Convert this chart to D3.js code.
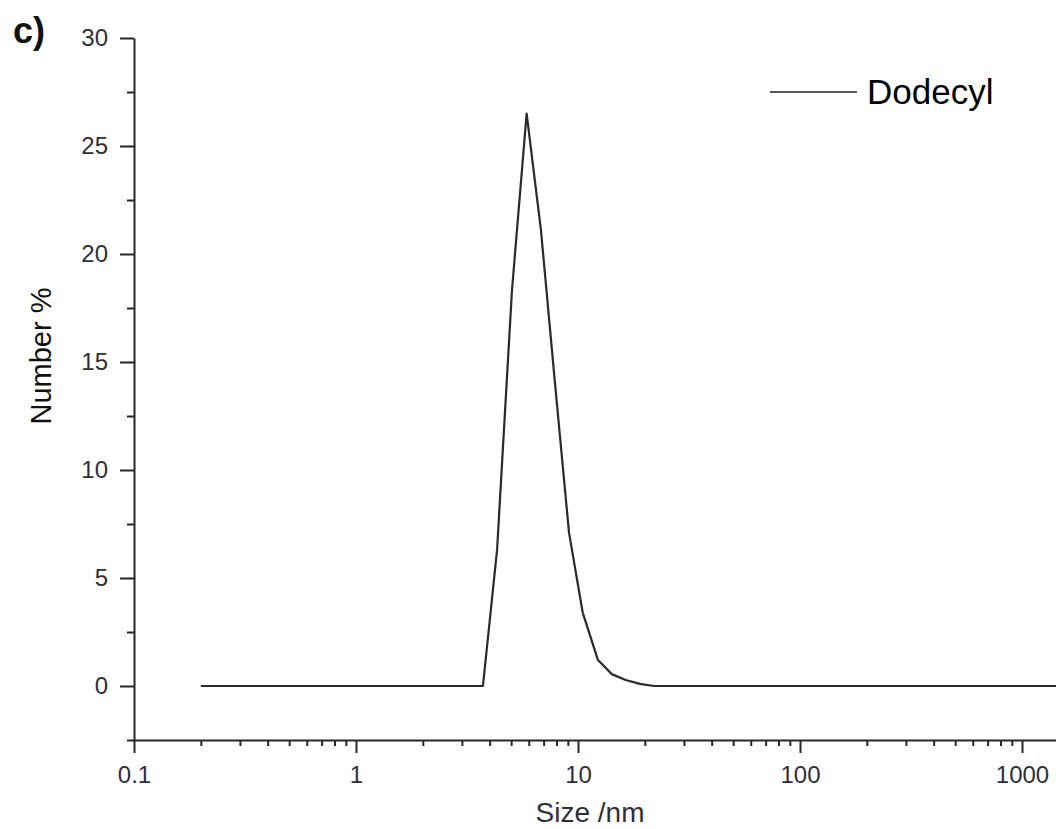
<!DOCTYPE html>
<html>
<head>
<meta charset="utf-8">
<script src="https://cdn.jsdelivr.net/npm/d3@7"></script>
<style>
  body { margin: 0; background: #fff; }
  svg { display: block; font-family: "Liberation Sans", Arial, sans-serif; }
</style>
</head>
<body>
<div id="chart"></div>
<script>
// DLS number distribution
const sizes  = [0.2, 3.73, 4.32, 5.04, 5.87, 6.81, 7.88, 9.11, 10.5, 12.3, 14.2, 16.4, 19.0, 22.0, 10000];
const number = [0,   0,    6.3,  18.3, 26.5, 21.1, 14.0, 7.1,  3.4,  1.2,  0.55, 0.28, 0.1,  0,    0];

const xTickValues = [0.1, 1, 10, 100, 1000];
const xTickLabels = ['0.1', '1', '10', '100', '1000'];
const yTickValues = [0, 5, 10, 15, 20, 25, 30];
const yMinorValues = [-2.5, 2.5, 7.5, 12.5, 17.5, 22.5, 27.5];
const seriesName = 'Dodecyl';

const width = 1056;
const height = 829;
const axisColor = '#262626';
const textColor = '#2e2e3a';

// x: log axis, 0.1 sits at 134px and 1000 at 1022px, plot runs past the right edge
const x0 = 134, x1000 = 1022, xMax = 1500;
const xScale = d3.scaleLog()
  .domain([0.1, xMax])
  .range([x0, x0 + (x1000 - x0) * Math.log10(xMax / 0.1) / 4]);

const yScale = d3.scaleLinear().domain([-2.5, 30]).range([740, 38]);

const svg = d3.select('#chart').append('svg')
  .attr('width', width)
  .attr('height', height);

// minor ticks first (under major ones)
svg.append('g')
  .attr('transform', `translate(0,${yScale(-2.5)})`)
  .call(d3.axisBottom(xScale)
    .tickValues(xScale.ticks().filter(v => xTickValues.indexOf(v) < 0))
    .tickSize(6).tickFormat(''))
  .call(g => g.select('.domain').remove());

svg.append('g')
  .attr('transform', `translate(${x0},0)`)
  .call(d3.axisLeft(yScale).tickValues(yMinorValues).tickSize(7).tickFormat(''))
  .call(g => g.select('.domain').remove());

// x axis
svg.append('g')
  .attr('class', 'x-axis')
  .attr('transform', `translate(0,${yScale(-2.5)})`)
  .call(d3.axisBottom(xScale)
    .tickValues(xTickValues)
    .tickFormat((d, i) => xTickLabels[i])
    .tickSize(13).tickPadding(13).tickSizeOuter(0));

// y axis
svg.append('g')
  .attr('class', 'y-axis')
  .attr('transform', `translate(${x0},0)`)
  .call(d3.axisLeft(yScale).tickValues(yTickValues).tickSize(14).tickPadding(12).tickSizeOuter(0));

svg.selectAll('.tick line').attr('stroke', axisColor).attr('stroke-width', 2);
svg.selectAll('.domain').attr('stroke', axisColor).attr('stroke-width', 2);
svg.selectAll('.tick text')
  .attr('fill', textColor)
  .style('font-size', '24px')
  .style('font-family', '"Liberation Sans", Arial, sans-serif');

// the curve
const line = d3.line()
  .x((d, i) => xScale(sizes[i]))
  .y(d => yScale(d));

svg.append('path')
  .datum(number)
  .attr('fill', 'none')
  .attr('stroke', '#2a2a2a')
  .attr('stroke-width', 2.2)
  .attr('stroke-linejoin', 'round')
  .attr('d', line);

// axis titles
svg.append('text')
  .attr('x', 590).attr('y', 822)
  .attr('text-anchor', 'middle')
  .attr('fill', textColor)
  .style('font-size', '28px')
  .text('Size /nm');

svg.append('text')
  .attr('transform', 'translate(51,356) rotate(-90)')
  .attr('text-anchor', 'middle')
  .attr('fill', '#111')
  .style('font-size', '29px')
  .text('Number %');

// legend
svg.append('line')
  .attr('x1', 770).attr('x2', 857)
  .attr('y1', 92).attr('y2', 92)
  .attr('stroke', '#222').attr('stroke-width', 1.5);

svg.append('text')
  .attr('x', 867).attr('y', 104)
  .attr('fill', '#000')
  .style('font-size', '35px')
  .text(seriesName);

// panel letter
svg.append('text')
  .attr('x', 13).attr('y', 43)
  .attr('fill', '#111')
  .style('font-size', '36px')
  .style('font-weight', 'bold')
  .text('c)');
</script>
</body>
</html>
